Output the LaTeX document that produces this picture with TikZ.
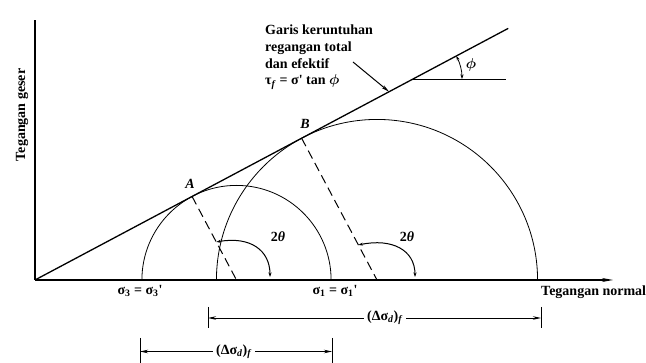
\documentclass[tikz,border=0pt]{standalone}
\usepackage{fontspec}
\setmainfont{Liberation Serif}
\usetikzlibrary{arrows.meta,calc}
\begin{document}
\begin{tikzpicture}[x=1pt,y=1pt,
  lbl/.style={font=\fontsize{14}{16.8}\selectfont\bfseries\mathversion{bold}, inner sep=0pt},
  ilbl/.style={font=\fontsize{14}{16.8}\selectfont\bfseries\itshape, inner sep=0pt},
  axisline/.style={line width=1.1pt},
  failline/.style={line width=1.3pt},
  circline/.style={line width=0.8pt},
  dashline/.style={line width=1pt, dash pattern=on 9pt off 5pt},
  dimline/.style={line width=0.8pt},
  tip/.style={-{Stealth[length=8pt,width=3.5pt]}},
  stip/.style={{Stealth[length=4.5pt,width=3pt]}-{Stealth[length=4.5pt,width=3pt]}}
]
\useasboundingbox (-35,-83) rectangle (611,280);
% axes
\coordinate (O) at (0,0);
\coordinate (ytop) at (0,260);
\coordinate (xend) at (578,0);
\draw[axisline] (O) -- (ytop);
\draw[axisline,-{Stealth[length=11pt,width=4pt]}] (O) -- (xend);
% failure envelope
\coordinate (Fend) at (28:536);
\draw[failline] (O) -- (Fend);
% Mohr circles
\coordinate (C1) at (201.5,0);
\coordinate (C2) at (342,0);
\draw[circline] ($(C1)+(94.6,0)$) arc[start angle=0,end angle=180,radius=94.6];
\draw[circline] ($(C2)+(160.56,0)$) arc[start angle=0,end angle=180,radius=160.56];
% tangent points
\coordinate (A) at (28:177.9);
\coordinate (B) at (28:301.97);
\draw[dashline] (A) -- (C1);
\draw[dashline] (B) -- (C2);
\node[ilbl] (Alab) at (155,96) {A};
\node[ilbl] (Blab) at (270,156) {B};
% 2theta arcs
\coordinate (S1) at ($(C1)!0.455!(A)$);
\coordinate (E1) at (235,3);
\draw[line width=1pt,stip] (S1) .. controls (215,44) and (235,30) .. (E1);
\node[lbl] (t1) at (243,43) {2\textit{θ}};
\coordinate (S2) at ($(C2)!0.247!(B)$);
\coordinate (E2) at (380,3);
\draw[line width=1pt,stip] (S2) .. controls (357,42) and (380,30) .. (E2);
\node[lbl] (t2) at (372,43) {2\textit{θ}};
% phi angle
\coordinate (P) at (28:428.1);
\coordinate (H) at ($(P)+(93,0)$);
\draw[circline] (P) -- (H);
\draw[line width=0.8pt,stip] ($(P)+(49,0)$) arc[start angle=0,end angle=28,radius=49];
\node[lbl] (phi) at (436,215) {$\phi$};
% annotation
\node[lbl,align=left,anchor=west] (note) at (230,223) {Garis keruntuhan\\regangan total\\dan efektif\\τ\textsubscript{\textit{f}} = σ\textquotesingle{} tan $\phi$};
\coordinate (ptrS) at (318,218);
\coordinate (ptrE) at (28:401);
\draw[line width=1pt,tip] (ptrS) -- (ptrE);
% axis labels
\node[lbl,rotate=90] (ylab) at (-13,165) {Tegangan geser};
\node[lbl,anchor=west] (xlab) at (506,-12) {Tegangan normal};
\node[lbl] (s3) at (105,-11) {σ\textsubscript{3} = σ\textsubscript{3}\textquotesingle};
\node[lbl] (s1) at (300,-11) {σ\textsubscript{1} = σ\textsubscript{1}\textquotesingle};
% upper dimension
\coordinate (u1a) at (173,-27); \coordinate (u1b) at (173,-48);
\coordinate (u2a) at (506,-27); \coordinate (u2b) at (506,-48);
\coordinate (u1) at (173,-38); \coordinate (u2) at (506,-38);
\draw[dimline] (u1a) -- (u1b);
\draw[dimline] (u2a) -- (u2b);
\node[lbl,fill=white,inner xsep=3pt] (D1) at (350,-38) {(Δσ\textsubscript{\textit{d}})\textsubscript{\textit{f}}};
\draw[dimline,tip] (D1) -- (u1);
\draw[dimline,tip] (D1) -- (u2);
% lower dimension
\coordinate (l1a) at (105,-58); \coordinate (l1b) at (105,-90);
\coordinate (l2a) at (297,-58); \coordinate (l2b) at (297,-90);
\coordinate (l1) at (105,-71.5); \coordinate (l2) at (297,-71.5);
\draw[dimline] (l1a) -- (l1b);
\draw[dimline] (l2a) -- (l2b);
\node[lbl,fill=white,inner xsep=3pt] (D2) at (199,-71.5) {(Δσ\textsubscript{\textit{d}})\textsubscript{\textit{f}}};
\draw[dimline,tip] (D2) -- (l1);
\draw[dimline,tip] (D2) -- (l2);
\end{tikzpicture}
\end{document}
